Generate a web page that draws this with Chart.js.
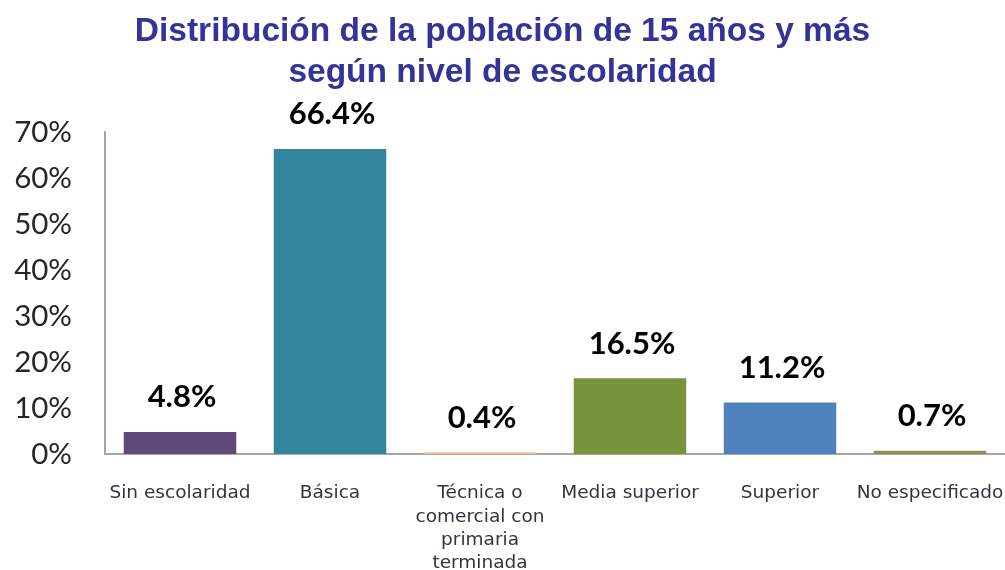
<!DOCTYPE html>
<html>
<head>
<meta charset="utf-8">
<script src="https://cdn.jsdelivr.net/npm/chart.js@4"></script>
<style>
  html, body { margin: 0; padding: 0; background: #fff; }
  #wrap { width: 1005px; height: 570px; }
</style>
</head>
<body>
<div id="wrap"><canvas id="chart"></canvas></div>
<script>
// Data
const categories = [
    'Sin escolaridad',
    'Básica',
    ['Técnica o', 'comercial con', 'primaria', 'terminada'],
    'Media superior',
    'Superior',
    'No especificado'
];
const values = [4.8, 66.4, 0.4, 16.5, 11.2, 0.7];
const barColors = ['#604A7B', '#31859C', '#FAC090', '#77933C', '#4F81BD', '#948A54'];
const titleLines = ['Distribución de la población de 15 años y más', 'según nivel de escolaridad'];

// Draws the value above each bar
const valueLabels = {
    id: 'valueLabels',
    afterDatasetsDraw(chart) {
        const ctx = chart.ctx;
        const meta = chart.getDatasetMeta(0);
        ctx.save();
        ctx.font = 'bold 31px Lato, sans-serif';
        ctx.fillStyle = '#000';
        ctx.textAlign = 'center';
        ctx.textBaseline = 'bottom';
        meta.data.forEach((bar, i) => {
            ctx.fillText(values[i].toFixed(1) + '%', bar.x + 2, bar.y - 19);
        });
        ctx.restore();
    }
};

const ctx = document.getElementById('chart').getContext('2d');
new Chart(ctx, {
    type: 'bar',
    data: {
        labels: categories,
        datasets: [{
            data: values,
            backgroundColor: barColors,
            barPercentage: 0.75,
            categoryPercentage: 1
        }]
    },
    options: {
        responsive: true,
        maintainAspectRatio: false,
        animation: false,
        layout: { padding: { left: 0, right: 0, top: 0, bottom: 0 } },
        plugins: {
            legend: { display: false },
            tooltip: { enabled: false },
            title: {
                display: true,
                text: titleLines,
                color: '#333399',
                font: { family: '"Liberation Sans", Arial, sans-serif', size: 33.5, weight: 'bold', lineHeight: 1.2 },
                padding: { top: 12, bottom: 40 }
            }
        },
        scales: {
            x: {
                grid: { display: false },
                border: { display: true, color: '#A6A6A6', width: 2 },
                ticks: {
                    color: '#333344',
                    font: { family: '"DejaVu Sans", sans-serif', size: 18.5, lineHeight: 1.25 },
                    maxRotation: 0,
                    autoSkip: false,
                    padding: 20
                },
                afterFit(scale) {
                    scale.height = 116;
                    scale.paddingRight = 0;
                    scale.paddingLeft = 0;
                }
            },
            y: {
                min: 0,
                max: 70,
                grid: { display: false },
                border: { display: true, color: '#A6A6A6', width: 2 },
                ticks: {
                    stepSize: 10,
                    color: '#262626',
                    font: { family: 'Lato, sans-serif', size: 29.5 },
                    padding: 25,
                    callback: v => v + '%'
                },
                afterFit(scale) { scale.width = 105; }
            }
        }
    },
    plugins: [valueLabels]
});
</script>
</body>
</html>
